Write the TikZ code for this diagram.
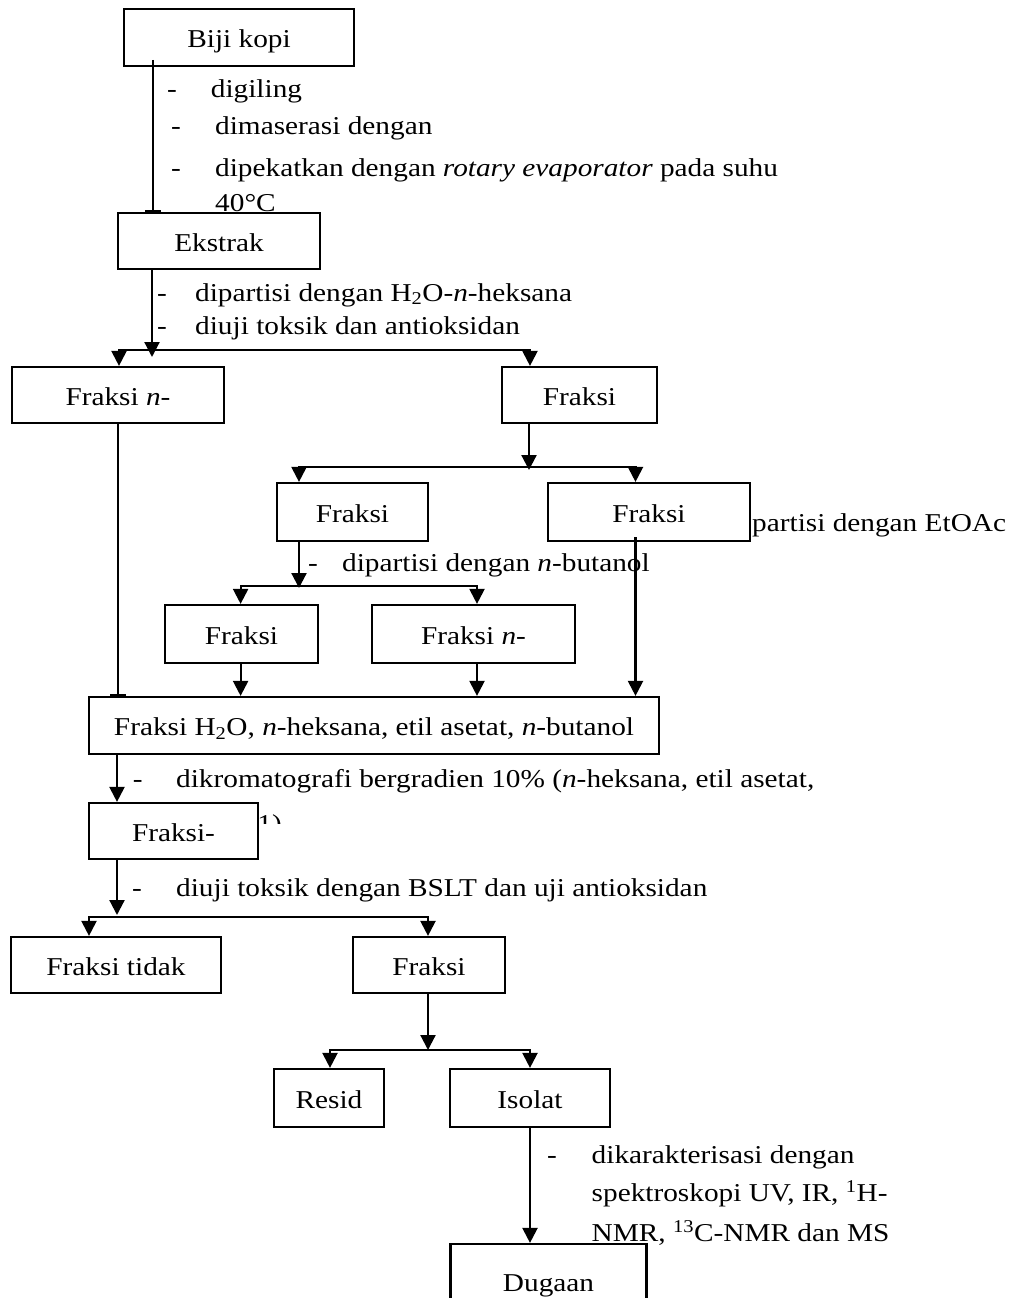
\documentclass[tikz,border=0pt]{standalone}
\usepackage{fontspec}
\setmainfont{Liberation Serif}[FakeStretch=1.14]
\usetikzlibrary{arrows.meta}
\begin{document}
\begin{tikzpicture}[x=1pt,y=-1pt,
  every node/.style={font=\fontsize{25.7}{40}\selectfont},
  box/.style={draw, line width=2.2pt, fill=white, inner sep=0pt, text height=20pt, text depth=0pt},
  txt/.style={anchor=base west, inner sep=0pt},
  conn/.style={line width=2.2pt, line join=miter},
  arr/.style={conn, -{Triangle[length=15pt,width=15pt]}},
  tbar/.style={conn, -{Bar[width=16pt]}},
]
\useasboundingbox (0,0) rectangle (1012,1298);

% clipped continuation line (partly hidden)
\begin{scope}
\clip (0,800) rectangle (1012,823);
\node[txt, anchor=base east] (frag) at (282,832) {1:1)};
\end{scope}

% boxes
\node[box, minimum width=230pt, minimum height=57pt] (biji) at (239,37.5) {Biji kopi};
\node[box, minimum width=202pt, minimum height=56pt] (ekstrak) at (219,241) {Ekstrak};
\node[box, minimum width=212pt, minimum height=56pt] (fn) at (118,395) {Fraksi \textit{n}-};
\node[box, minimum width=155pt, minimum height=56pt] (fr) at (579.5,395) {Fraksi};
\node[box, minimum width=151pt, minimum height=58pt] (fml) at (352.5,512) {Fraksi};
\node[box, minimum width=202pt, minimum height=58pt] (fmr) at (649,512) {Fraksi};
\node[box, minimum width=153pt, minimum height=58pt] (fll) at (241.5,634) {Fraksi};
\node[box, minimum width=203pt, minimum height=58pt] (flr) at (473.5,634) {Fraksi \textit{n}-};
\node[box, minimum width=570pt, minimum height=57pt] (big) at (374,725.5) {Fraksi H\textsubscript{2}O, \textit{n}-heksana, etil asetat, \textit{n}-butanol};
\node[box, minimum width=169pt, minimum height=56pt] (fd) at (173.5,831) {Fraksi-};
\node[box, minimum width=210pt, minimum height=56pt] (ft) at (116,965) {Fraksi tidak};
\node[box, minimum width=152pt, minimum height=56pt] (fb) at (429,965) {Fraksi};
\node[box, minimum width=110pt, minimum height=58pt] (resid) at (329,1098) {Resid};
\node[box, minimum width=160pt, minimum height=58pt] (isolat) at (530,1098) {Isolat};
\node[box, minimum width=196pt, minimum height=75pt] (dugaan) at (548.5,1281.5) {Dugaan};

% connectors
\coordinate (c1) at (153,60);
\draw[tbar] (c1) -- (c1 |- ekstrak.north);

\coordinate (j2) at (152,357);
\coordinate (h2l) at (119,350);
\coordinate (h2r) at (530,350);
\draw[arr] (ekstrak.south -| j2) -- (j2);
\draw[arr] (h2r) -- (h2l) -- (h2l |- fn.north);
\draw[arr] (h2l) -- (h2r) -- (h2r |- fr.north);

\draw[tbar] (fn.south) -- (fn.south |- big.north);

\coordinate (j4) at (529,470);
\coordinate (h4l) at (299,466.7);
\coordinate (h4r) at (635.5,466.7);
\draw[arr] (fr.south -| j4) -- (j4);
\draw[arr] (h4r) -- (h4l) -- (h4l |- fml.north);
\draw[arr] (h4l) -- (h4r) -- (h4r |- fmr.north);

\coordinate (j5) at (299,588);
\coordinate (h5l) at (240.6,586);
\coordinate (h5r) at (477,586);
\draw[arr] (fml.south -| j5) -- (j5);
\draw[arr] (h5r) -- (h5l) -- (h5l |- fll.north);
\draw[arr] (h5l) -- (h5r) -- (h5r |- flr.north);

\draw[arr] (fll.south -| h5l) -- (h5l |- big.north);
\draw[arr] (flr.south -| h5r) -- (h5r |- big.north);
\coordinate (c6) at (635.5,537);
\draw[arr] (c6) -- (c6 |- big.north);

\coordinate (c7) at (117,760);
\draw[arr] (big.south -| c7) -- (c7 |- fd.north);

\coordinate (j8) at (117,915);
\coordinate (h8l) at (89,917);
\coordinate (h8r) at (428,917);
\draw[arr] (fd.south -| j8) -- (j8);
\draw[arr] (h8r) -- (h8l) -- (h8l |- ft.north);
\draw[arr] (h8l) -- (h8r) -- (h8r |- fb.north);

\coordinate (j9) at (428,1050);
\coordinate (h9l) at (330,1050);
\coordinate (h9r) at (530,1050);
\draw[arr] (fb.south -| j9) -- (j9);
\draw[arr] (h9r) -- (h9l) -- (h9l |- resid.north);
\draw[arr] (h9l) -- (h9r) -- (h9r |- isolat.north);

\draw[arr] (isolat.south) -- (isolat.south |- dugaan.north);

% texts
\node[txt] (d1) at (167,97) {-};
\node[txt] (t1) at (210.7,97) {digiling};
\node[txt] (d2) at (171,134) {-};
\node[txt] (t2) at (215,134) {dimaserasi dengan};
\node[txt] (d3) at (171,176) {-};
\node[txt] (t3) at (215,176) {dipekatkan dengan \textit{rotary evaporator} pada suhu};
\node[txt] (t4) at (215,211) {40°C};

\node[txt] (d5) at (157,301) {-};
\node[txt] (t5) at (195,301) {dipartisi dengan H\textsubscript{2}O-\textit{n}-heksana};
\node[txt] (d6) at (157,334.5) {-};
\node[txt] (t6) at (195,334.5) {diuji toksik dan antioksidan};

\node[txt] (t7) at (752,531.7) {partisi dengan EtOAc};
\node[txt] (d8) at (308,571.7) {-};
\node[txt] (t8) at (342,571.7) {dipartisi dengan \textit{n}-butanol};

\node[txt] (d9) at (132.7,787) {-};
\node[txt] (t9) at (176,787) {dikromatografi bergradien 10\% (\textit{n}-heksana, etil asetat,};
\node[txt] (d10) at (132,896.7) {-};
\node[txt] (t10) at (176,896.7) {diuji toksik dengan BSLT dan uji antioksidan};

\node[txt] (d11) at (547,1163) {-};
\node[txt] (t11) at (591.5,1163) {dikarakterisasi dengan};
\node[txt] (t12) at (591.5,1201.7) {spektroskopi UV, IR, \textsuperscript{1}H-};
\node[txt] (t13) at (591.5,1241.7) {NMR, \textsuperscript{13}C-NMR dan MS};
\end{tikzpicture}
\end{document}
